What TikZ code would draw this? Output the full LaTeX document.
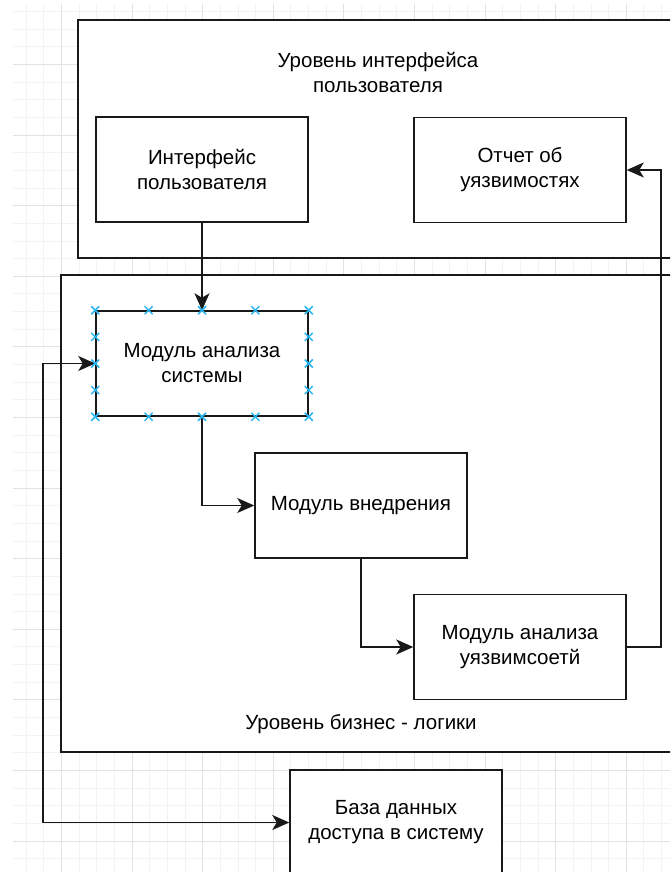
\documentclass[tikz,border=0pt]{standalone}
\usepackage{fontspec}
\setmainfont{Liberation Sans}
\usetikzlibrary{arrows.meta,calc}
\definecolor{gridminor}{RGB}{243,243,243}
\definecolor{gridmajor}{RGB}{226,226,226}
\definecolor{handle}{RGB}{41,182,242}
\definecolor{edge}{RGB}{25,25,25}
\begin{document}
\begin{tikzpicture}[x=1pt,y=-1pt,
  txt/.style={font=\fontsize{20.5}{25}\selectfont, align=center, text=black, inner sep=0},
  box/.style={txt, draw=edge, line width=1.5pt, fill=white, minimum width=212pt, minimum height=105pt},
  cont/.style={draw=edge, line width=1.5pt, fill=white, inner sep=0},
  conn/.style={draw=edge, line width=1.5pt, -{Stealth[length=17pt 0,width=15pt 0,inset=4.5pt 0]}},
  conn2/.style={draw=edge, line width=1.5pt, {Stealth[length=17pt 0,width=15pt 0,inset=4.5pt 0]}-{Stealth[length=17pt 0,width=15pt 0,inset=4.5pt 0]}},
  xmark/.style={draw=handle, line width=1.5pt}]
\useasboundingbox (0,0) rectangle (670,872);
\clip (0,0) rectangle (670,872);
\fill[white] (0,0) rectangle (670,872);
% grid
\foreach \k in {-6,...,32} {
  \pgfmathsetmacro{\gx}{132+17.65*\k}
  \draw[gridminor, line width=0.8pt] (\gx,4) -- (\gx,872);
}
\foreach \k in {-7,...,42} {
  \pgfmathsetmacro{\gy}{135+17.65*\k}
  \ifdim \gy pt > 4pt \draw[gridminor, line width=0.8pt] (13,\gy) -- (670,\gy); \fi
}
\foreach \k in {-1,...,8} {
  \pgfmathsetmacro{\gx}{132+70.6*\k}
  \draw[gridmajor, line width=0.8pt] (\gx,4) -- (\gx,872);
}
\foreach \k in {-1,...,10} {
  \pgfmathsetmacro{\gy}{135+70.6*\k}
  \draw[gridmajor, line width=0.8pt] (13,\gy) -- (670,\gy);
}
% containers
\node[cont, minimum width=622pt, minimum height=238pt] (ctop) at (389,139) {};
\node[txt] (ltop) at (378,72.5) {Уровень интерфейса\\пользователя};
\node[cont, minimum width=639pt, minimum height=477pt] (cbiz) at (380.5,513.5) {};
\node[txt] (lbiz) at (361,724) {Уровень бизнес - логики};
% boxes
\node[box] (ui)  at (202,169.5) {Интерфейс\\пользователя};
\node[box] (rep) at (520,170) {Отчет об\\уязвимостях};
\node[box] (mas) at (202,363.5) {Модуль анализа\\системы};
\node[box] (mv)  at (361,505.5) {Модуль внедрения};
\node[box] (mau) at (520,647) {Модуль анализа\\уязвимсоетй};
\node[box] (db)  at (396,822.5) {База данных\\доступа в систему};
% connectors
\coordinate (r1) at (661,647);
\coordinate (l1) at (43,822.5);
\draw[conn] (ui.south) -- (mas.north);
\draw[conn] (mas.south) |- (mv.west);
\draw[conn] (mv.south) |- (mau.west);
\draw[conn] (mau.east) -- (r1) |- (rep.east);
\draw[conn2] (db.west) -- (l1) |- (mas.west);
% selection handles
\foreach \f in {0,0.25,0.5,0.75,1} {
  \draw[xmark] ($(mas.north west)!\f!(mas.north east)$) ++(-4,-4) -- ++(8,8) ++(-8,0) -- ++(8,-8);
  \draw[xmark] ($(mas.south west)!\f!(mas.south east)$) ++(-4,-4) -- ++(8,8) ++(-8,0) -- ++(8,-8);
}
\foreach \f in {0.25,0.5,0.75} {
  \draw[xmark] ($(mas.north west)!\f!(mas.south west)$) ++(-4,-4) -- ++(8,8) ++(-8,0) -- ++(8,-8);
  \draw[xmark] ($(mas.north east)!\f!(mas.south east)$) ++(-4,-4) -- ++(8,8) ++(-8,0) -- ++(8,-8);
}
\end{tikzpicture}
\end{document}
